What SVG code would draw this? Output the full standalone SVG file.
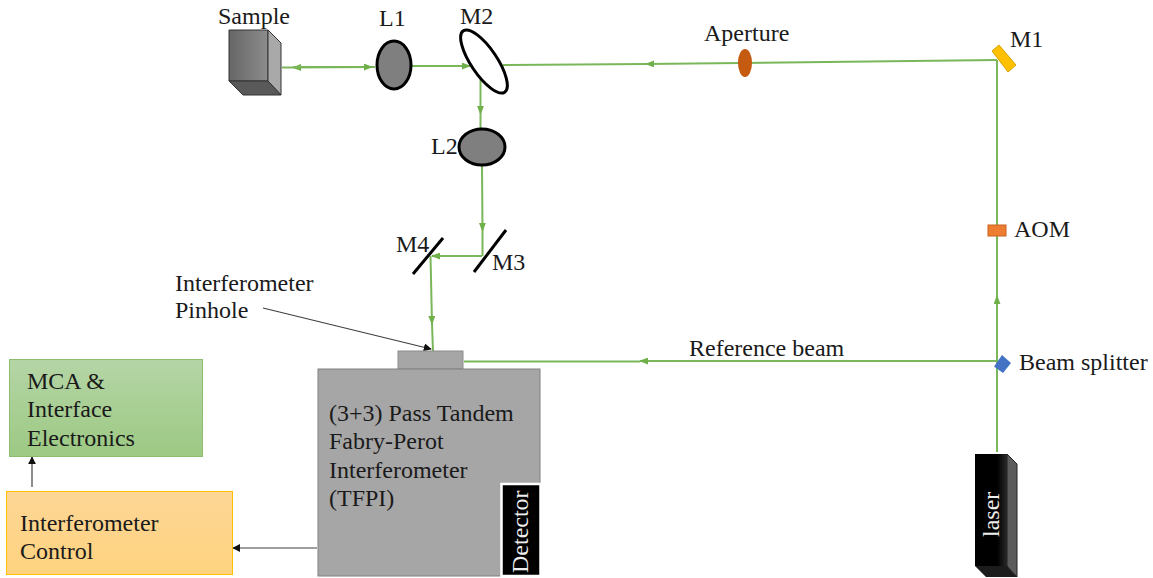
<svg xmlns="http://www.w3.org/2000/svg" width="1153" height="578" viewBox="0 0 1153 578">
<style>
text{font-family:"Liberation Serif","Times New Roman",serif;font-size:24px;fill:#1a1a1a}
.b{fill:none;stroke:#7ab75a;stroke-width:2}
.k{fill:none;stroke:#404040;stroke-width:1.2}
.lens{fill:#7f7f7f;stroke:#000;stroke-width:3}
.m{stroke:#000;stroke-width:3;fill:none}
</style>
<defs>
<marker id="g" viewBox="0 0 10 10" refX="9" refY="5" markerWidth="9" markerHeight="7" markerUnits="userSpaceOnUse" orient="auto" preserveAspectRatio="none"><path d="M0 0L10 5L0 10z" fill="#70b04a"/></marker>
<marker id="a" viewBox="0 0 10 10" refX="9" refY="5" markerWidth="8" markerHeight="8" markerUnits="userSpaceOnUse" orient="auto"><path d="M0 0L10 5L0 10z" fill="#111"/></marker>
<linearGradient id="gg" x1="0" y1="0" x2="0" y2="1"><stop offset="0" stop-color="#b5d5a6"/><stop offset="1" stop-color="#9cc983"/></linearGradient>
<linearGradient id="og" x1="0" y1="0" x2="0" y2="1"><stop offset="0" stop-color="#fed796"/><stop offset="1" stop-color="#fed27f"/></linearGradient>
<linearGradient id="sg" x1="0" y1="0" x2="1" y2="0"><stop offset="0" stop-color="#666"/><stop offset="1" stop-color="#8c8c8c"/></linearGradient>
<linearGradient id="lg" x1="0" y1="0" x2="1" y2="0"><stop offset="0" stop-color="#000"/><stop offset=".7" stop-color="#000"/><stop offset="1" stop-color="#2a2a2a"/></linearGradient>
</defs>
<g id="connectors">
<path class="b" d="M375 67L293 67.500" marker-end="url(#g)"/>
<path class="b" d="M282 67.500H293"/>
<path class="b" d="M293 67L372 67" marker-end="url(#g)"/>
<path class="b" d="M412 66H470" marker-end="url(#g)"/>
<path class="b" d="M997 60L646 64" marker-end="url(#g)"/>
<path class="b" d="M646 64L503 65"/>
<path class="b" d="M480.500 78V114" marker-end="url(#g)"/>
<path class="b" d="M480.500 114V130"/>
<path class="b" d="M482 165L482.500 231" marker-end="url(#g)"/>
<path class="b" d="M482.500 231V256"/>
<path class="b" d="M482 256H432" marker-end="url(#g)"/>
<path class="b" d="M430.500 256L432 324" marker-end="url(#g)"/>
<path class="b" d="M432 324L433 351"/>
<path class="b" d="M997 361H640" marker-end="url(#g)"/>
<path class="b" d="M640 361.500H464"/>
<path class="b" d="M997 452V296" marker-end="url(#g)"/>
<path class="b" d="M997 296V60"/>
<path class="k" d="M263 308L431 349" marker-end="url(#a)"/>
<path class="k" d="M317 548H233" marker-end="url(#a)"/>
<path class="k" d="M32 487V457" marker-end="url(#a)"/>
</g>
<g id="sample">
<path d="M229 30H268V81H229z" fill="url(#sg)" stroke="#333"/>
<path d="M268 30L281 43V95L268 81z" fill="#a9a9a9" stroke="#333"/>
<path d="M229 81H268L281 95H243z" fill="#595959" stroke="#333"/>
<text x="218" y="23.500">Sample</text>
</g>
<g id="l1"><ellipse class="lens" cx="394" cy="65" rx="17" ry="24"/><text x="379" y="26">L1</text></g>
<g id="m2"><ellipse cx="484" cy="61.500" rx="13" ry="37" transform="rotate(-34 484 61.500)" fill="#fff" stroke="#000" stroke-width="3"/><text x="460" y="24">M2</text></g>
<g id="l2"><ellipse class="lens" cx="482" cy="147" rx="23" ry="18"/><text x="431" y="154">L2</text></g>
<g id="aperture"><ellipse cx="745" cy="63" rx="7" ry="14" fill="#c55a11"/><text x="704" y="41">Aperture</text></g>
<g id="m1"><path d="M992 51L999 45L1016 65L1008 72z" fill="#ffc000" stroke="#d9a300"/><text x="1010" y="47">M1</text></g>
<g id="m3"><path class="m" d="M474 272L506 230"/><text x="492" y="270">M3</text></g>
<g id="m4"><path class="m" d="M413 274L443 238"/><text x="396" y="252">M4</text></g>
<g id="aom"><rect x="988" y="225" width="18" height="11" fill="#ed7d31" stroke="#c8651f"/><text x="1014" y="237">AOM</text></g>
<g id="beam-splitter"><path d="M1002 355L1011 363L1003 373L994 366.500z" fill="#4472c4"/><text x="1019" y="370">Beam splitter</text></g>
<g id="reference-label"><text x="689" y="356">Reference beam</text></g>
<g id="pinhole-label"><text x="175" y="291">Interferometer</text><text x="175" y="318">Pinhole</text></g>
<g id="laser">
<path d="M975 454H1007V566H975z" fill="url(#lg)"/>
<path d="M1007 454L1017 464V577L1007 566z" fill="#5c5c5c" stroke="#222"/>
<path d="M975 566H1007L1017 577H986z" fill="#1c1c1c"/>
<text transform="translate(999 537) rotate(-90)" style="fill:#eee">laser</text>
</g>
<g id="tfpi">
<rect x="398" y="351" width="65" height="18" fill="#a6a6a6" stroke="#8c8c8c"/>
<rect x="318" y="369" width="222" height="207" fill="#a6a6a6" stroke="#808080"/>
<text x="329" y="421">(3+3) Pass Tandem</text><text x="329" y="449">Fabry-Perot</text><text x="329" y="478">Interferometer</text><text x="329" y="506">(TFPI)</text>
</g>
<g id="detector">
<rect x="501.500" y="484" width="39" height="92" fill="#000" stroke="#fff" stroke-width="2.500"/>
<text transform="translate(528 573) rotate(-90)" style="fill:#eee">Detector</text>
</g>
<g id="mca"><rect x="9.500" y="359.500" width="193" height="97" fill="url(#gg)" stroke="#8dbd70"/>
<text x="27" y="389">MCA &amp;</text><text x="27" y="417">Interface</text><text x="27" y="446">Electronics</text></g>
<g id="control"><rect x="6.500" y="491.500" width="226" height="83" fill="url(#og)" stroke="#ffc000"/>
<text x="20" y="531">Interferometer</text><text x="20" y="559">Control</text></g>
</svg>
